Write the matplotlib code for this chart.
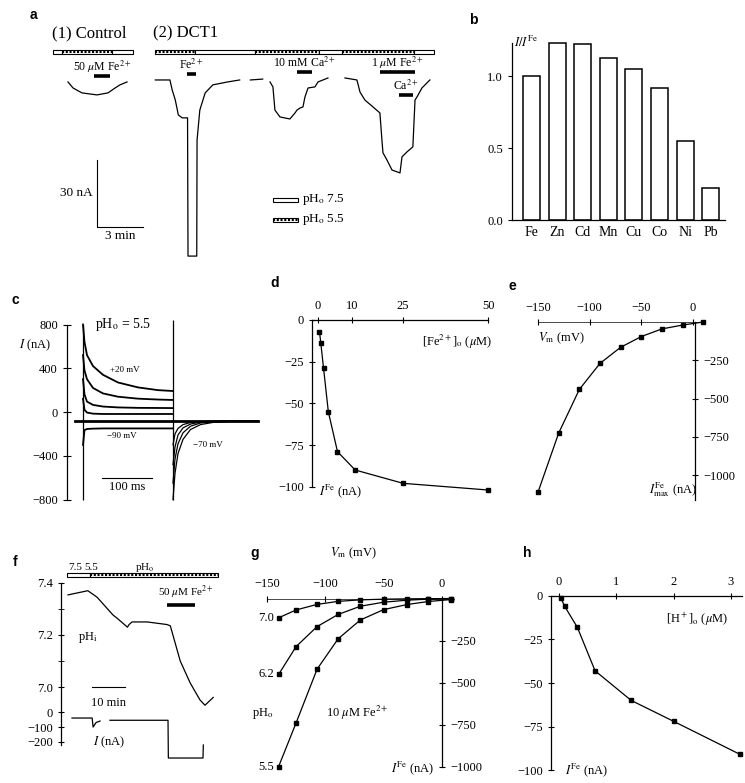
import numpy as np
import matplotlib
matplotlib.use('Agg')
import matplotlib.pyplot as plt
from matplotlib.patches import Rectangle

plt.rcParams['font.family'] = ['Liberation Serif', 'DejaVu Serif']
plt.rcParams['mathtext.fontset'] = 'stix'
plt.rcParams['font.size'] = 9
plt.rcParams['axes.linewidth'] = 0.9

nan = np.nan

# a: current traces (min, nA)
ctl_t = [1.5, 1.83, 2.41, 3.39, 4.11, 4.57, 4.89, 5.35]
ctl_i = [-0.9, -3.6, -5.8, -6.7, -5.8, -3.6, -2.2, -0.9]
dct_t = [7.2, 8.15, 8.3, 8.5, 8.7, 8.95, 9.3, 9.33, 9.9, 9.92, 10.1, 10.45, 10.95, 11.9, 12.7, nan,
         13.4, 14.2, nan,
         14.68, 14.87, 15.0, 15.33, 15.98, 16.31, 16.44, 16.63, 16.83, 16.96, 17.16, 17.61, 17.81, 18.46, nan,
         19.57, 20.35, 20.55, 20.87, 21.4, 21.85, 21.98, 22.05, 22.31, 22.64, 23.16, 23.29, 23.61, 24.0,
         24.14, 24.27, 24.59, 25.11]
dct_i = [0, 0, -4.5, -9, -15.7, -17, -17, -79, -79, -27, -13.5, -5.8, -2.2, -0.9, 0, nan,
         0, 0.4, nan,
         -0.9, -3.1, -13.5, -16.6, -17.5, -14.8, -13.5, -12.6, -12.1, -7.6, -3.6, -3.1, -0.9, 0.9, nan,
         0.9, 0, -5.4, -9, -12.1, -14.8, -26.9, -32.7, -35.9, -40.4, -41.7, -34.5, -32.3, -30,
         -9, -7.6, -3.6, 0]
ctl_sol_edges = [0.52, 1.1, 4.37, 5.74]
ctl_sol_acid = [False, True, False]
dct_sol_edges = [7.18, 9.8, 13.7, 17.9, 19.4, 24.1, 25.4]
dct_sol_acid = [True, False, True, False, True, False]
appl_start = [3.2, 9.26, 16.44, 21.85, 23.1]
appl_end = [4.24, 9.85, 17.42, 24.14, 24.0]
appl_level = [1.8, 2.7, 3.6, 3.6, -6.7]
appl_text = [r'50 $\mu$M Fe$^{2+}$', r'Fe$^{2+}$', r'10 mM Ca$^{2+}$', r'1 $\mu$M Fe$^{2+}$', r'Ca$^{2+}$']

# b: relative currents
metals = ['Fe', 'Zn', 'Cd', 'Mn', 'Cu', 'Co', 'Ni', 'Pb']
rel_current = [1.0, 1.23, 1.22, 1.125, 1.05, 0.92, 0.55, 0.22]

# c: voltage-clamp records (ms, nA)
pulse_t = [0, 3, 8, 20, 40, 70, 110, 150, 180]
pulse_i = [[800, 640, 520, 420, 340, 270, 225, 200, 192],
           [520, 380, 300, 220, 170, 140, 122, 114, 110],
           [300, 160, 95, 65, 50, 42, 38, 37, 36],
           [120, 20, -5, -15, -18, -18, -18, -18, -18],
           [-300, -165, -155, -152, -150, -150, -150, -150, -150]]
tail_t = [180, 184, 190, 200, 215, 235, 260, 300, 350]
tail_i = [[-800, -560, -380, -250, -160, -115, -95, -85, -82],
          [-650, -430, -290, -190, -130, -100, -88, -83, -82],
          [-480, -320, -210, -145, -110, -92, -85, -82, -82],
          [-300, -200, -150, -115, -96, -87, -83, -82, -82]]
holding_i = -82

# d: Fe2+ dose response
fe_conc = [0.4, 0.8, 1.6, 3, 5.7, 10.9, 25, 50]
fe_current = [-7, -14, -29, -55, -79, -90, -98, -102]

# e: I-V at saturating Fe2+
e_vm = [10, -10, -30, -50, -70, -90, -110, -130, -150]
e_imax = [0, -20, -45, -95, -165, -270, -440, -725, -1110]

# f: intracellular pH and current (min)
f_t = [0, 6, 8.8, 13.6, 14.8, 18, 18.5, 19.4, 24, 30, 31, 34, 37, 40, 41.5, 44]
f_ph = [7.354, 7.37, 7.345, 7.277, 7.265, 7.23, 7.24, 7.25, 7.25, 7.24, 7.235, 7.10, 7.016, 6.95, 6.93, 6.96]
fi_t = [1.2, 7.3, 7.6, 8.5, 9.7, nan, 12.7, 30.3, 30.4, 40.9, 41.0]
fi_i = [-40, -40, -100, -70, -60, nan, -55, -55, -307, -307, -220]

# g: I-V at three pH_o values
g_vm = [-140, -125, -107, -89, -70, -50, -30, -12, 8]
g_ph = ['7.0', '6.2', '5.5']
g_i = [[-115, -68, -35, -17, -8, -4, -2, -1, 0],
       [-452, -286, -167, -95, -46, -22, -10, -4, -2],
       [-1000, -740, -420, -240, -128, -66, -36, -18, -6]]

# h: proton dependence
h_conc = [0.03, 0.1, 0.32, 0.63, 1.26, 2.0, 3.16]
h_current = [-1, -6, -18, -43, -60, -72, -91]

W, H = 745, 783
fig = plt.figure(figsize=(W / 100, H / 100), dpi=100)


def panel(x0, y0, x1, y1):
    ax = fig.add_axes([x0 / W, 1 - y1 / H, (x1 - x0) / W, (y1 - y0) / H])
    ax.patch.set_alpha(0)
    return ax


def bare(ax):
    for s in ax.spines.values():
        s.set_visible(False)
    ax.set_xticks([])
    ax.set_yticks([])


def sol_bar(ax, edges, acid, y, h):
    for t0, t1, a in zip(edges[:-1], edges[1:], acid):
        ax.add_patch(Rectangle((t0, y - h / 2), t1 - t0, h, facecolor='white',
                               edgecolor='black', lw=0.8))
        if a:
            ax.plot([t0, t1], [y, y], color='black', lw=1.5, dashes=(1.0, 0.8),
                    solid_capstyle='butt')


lw = 0.9

# ---- a
ax = panel(45, 20, 440, 265)
bare(ax)
ax.set_xlim(0, 25.77)
ax.set_ylim(-83, 26.9)
ax.plot(ctl_t, ctl_i, color='black', lw=lw)
ax.plot(dct_t, dct_i, color='black', lw=lw)
sol_bar(ax, ctl_sol_edges, ctl_sol_acid, 12.6, 1.8)
sol_bar(ax, dct_sol_edges, dct_sol_acid, 12.6, 1.8)
for t0, t1, lev, txt in zip(appl_start, appl_end, appl_level, appl_text):
    ax.plot([t0, t1], [lev, lev], color='black', lw=2.6, solid_capstyle='butt')
    ax.text((t0 + t1) / 2, lev + 4.0, txt, ha='center', va='center', fontsize=8.5)
ax.text(0.46, 21.1, '(1) Control', ha='left', va='center', fontsize=12)
ax.text(7.05, 21.1, '(2) DCT1', ha='left', va='center', fontsize=12)
ax.plot([3.39, 3.39, 6.39], [-35.9, -65.9, -65.9], color='black', lw=0.8)
ax.text(3.1, -50.7, '30 nA', ha='right', va='center', fontsize=9.5)
ax.text(4.9, -67.5, '3 min', ha='center', va='top', fontsize=9.5)
sol_bar(ax, [14.87, 16.5], [False], -53.8, 1.8)
sol_bar(ax, [14.87, 16.5], [True], -62.8, 1.8)
ax.text(16.76, -53.8, r'pH$_{\rm o}$ 7.5', ha='left', va='center', fontsize=9.5)
ax.text(16.76, -62.8, r'pH$_{\rm o}$ 5.5', ha='left', va='center', fontsize=9.5)

# ---- b
ax = panel(512, 40, 725, 220)
x = np.arange(len(metals))
ax.bar(x, rel_current, width=0.66, facecolor='white', edgecolor='black', lw=1.1)
ax.set_xlim(-0.76, 7.56)
ax.set_ylim(0, 1.25)
ax.spines['right'].set_visible(False)
ax.spines['top'].set_visible(False)
ax.spines['left'].set_bounds(0, 1.23)
ax.set_yticks([0, 0.5, 1.0])
ax.set_yticklabels(['0.0', '0.5', '1.0'])
ax.set_xticks(x)
ax.set_xticklabels(metals, fontsize=10)
ax.tick_params(axis='x', length=0, pad=4)
ax.tick_params(axis='y', length=3, direction='out')
ax.text(-0.68, 1.23, r'$I/I^{\rm Fe}$', ha='left', va='center', fontsize=9)

# ---- c
ax = panel(60, 300, 265, 505)
ax.set_xlim(-46, 364)
ax.set_ylim(-850, 1024)
for s in ['top', 'right', 'bottom']:
    ax.spines[s].set_visible(False)
ax.spines['left'].set_position(('data', -32))
ax.spines['left'].set_bounds(-800, 800)
ax.set_xticks([])
ax.set_yticks([800, 400, 0, -400, -800])
ax.tick_params(axis='y', direction='inout', length=6)
for yi in pulse_i:
    ax.plot(pulse_t, yi, color='black', lw=1.3)
for yi in tail_i:
    ax.plot(tail_t, yi, color='black', lw=lw)
ax.vlines([0, 180], -800, [800, 840], color='black', lw=lw)
ax.plot([-16, 350], [holding_i, holding_i], color='black', lw=2.0)
ax.text(24, 800, r'pH$_{\rm o}$ = 5.5', ha='left', va='center', fontsize=10)
ax.text(54, 384, '+20 mV', ha='left', va='center', fontsize=6.5)
ax.text(48, -215, '\u221290 mV', ha='left', va='center', fontsize=6.5)
ax.text(220, -300, '\u221270 mV', ha='left', va='center', fontsize=6.5)
ax.plot([38, 138], [-603, -603], color='black', lw=0.8)
ax.text(88, -690, '100 ms', ha='center', va='center', fontsize=9)
ax.text(-96, 612, r'$I$ (nA)', ha='center', va='center', fontsize=9)

# ---- d
ax = panel(295, 295, 500, 505)
ax.set_xlim(-6.8, 53.5)
ax.set_ylim(-111, 15)
ax.spines['right'].set_visible(False)
ax.spines['bottom'].set_visible(False)
ax.spines['top'].set_position(('data', 0))
ax.spines['top'].set_bounds(-1.8, 50)
ax.spines['left'].set_position(('data', -1.8))
ax.spines['left'].set_bounds(-100, 0)
ax.xaxis.set_ticks_position('top')
ax.set_xticks([0, 10, 25, 50])
ax.set_yticks([0, -25, -50, -75, -100])
ax.tick_params(direction='inout', length=5)
ax.plot(fe_conc, fe_current, color='black', lw=lw, marker='s', ms=3)
ax.text(40.9, -13.2, r'[Fe$^{2+}$]$_{\rm o}$ ($\mu$M)', ha='center', va='center', fontsize=9)
ax.text(6.5, -103, r'$I^{\rm Fe}$ (nA)', ha='center', va='center', fontsize=9)

# ---- e
ax = panel(500, 295, 740, 505)
ax.set_xlim(-186.8, 45.5)
ax.set_ylim(-1194, 176)
ax.spines['left'].set_visible(False)
ax.spines['bottom'].set_visible(False)
ax.spines['top'].set_position(('data', 0))
ax.spines['top'].set_bounds(-150, 10)
ax.spines['top'].set_linewidth(0.5)
ax.spines['right'].set_position(('data', 2))
ax.spines['right'].set_bounds(-1160, 0)
ax.xaxis.set_ticks_position('top')
ax.yaxis.set_ticks_position('right')
ax.set_xticks([-150, -100, -50, 0])
ax.set_yticks([-250, -500, -750, -1000])
ax.tick_params(direction='inout', length=5)
ax.plot(e_vm, e_imax, color='black', lw=lw, marker='s', ms=2.5)
ax.text(-127, -104, r'$V_{\rm m}$ (mV)', ha='center', va='center', fontsize=9)
ax.text(-19, -1097, r'$I^{\rm Fe}_{\rm max}$ (nA)', ha='center', va='center', fontsize=9)

# ---- f
ax = panel(40, 560, 235, 712)
ax.set_xlim(-8.5, 50.6)
ax.set_ylim(6.904, 7.488)
for s in ['top', 'right', 'bottom']:
    ax.spines[s].set_visible(False)
ax.spines['left'].set_position(('data', -2.1))
ax.spines['left'].set_bounds(6.904, 7.4)
ax.set_xticks([])
ax.set_yticks([7.4, 7.2, 7.0])
ax.set_yticks([7.3, 7.1], minor=True)
ax.tick_params(axis='y', which='both', direction='inout', length=5)
ax.plot(f_t, f_ph, color='black', lw=lw)
sol_bar(ax, [-0.3, 6.7, 45.5], [False, True], 7.431, 0.015)
ax.text(0.0, 7.458, '7.5', ha='left', va='center', fontsize=8)
ax.text(4.8, 7.458, '5.5', ha='left', va='center', fontsize=8)
ax.text(20.3, 7.458, r'pH$_{\rm o}$', ha='left', va='center', fontsize=8)
ax.plot([30, 38.5], [7.315, 7.315], color='black', lw=2.6, solid_capstyle='butt')
ax.text(35.8, 7.365, r'50 $\mu$M Fe$^{2+}$', ha='center', va='center', fontsize=8)
ax.plot([7.3, 17.3], [7.0, 7.0], color='black', lw=0.8)
ax.text(12.3, 6.94, '10 min', ha='center', va='center', fontsize=9)
ax.text(3.0, 7.19, r'pH$_{\rm i}$', ha='left', va='center', fontsize=9)

ax = panel(40, 705, 235, 770)
ax.set_xlim(-8.5, 50.6)
ax.set_ylim(-387, 47)
for s in ['top', 'right', 'bottom']:
    ax.spines[s].set_visible(False)
ax.spines['left'].set_position(('data', -2.1))
ax.spines['left'].set_bounds(-220, 0)
ax.set_xticks([])
ax.set_yticks([0, -100, -200])
ax.tick_params(axis='y', direction='inout', length=5)
ax.plot(fi_t, fi_i, color='black', lw=lw)
ax.text(7.6, -200, r'$I$ (nA)', ha='left', va='center', fontsize=9)

# ---- g
ax = panel(250, 590, 470, 775)
ax.set_xlim(-164.5, 24)
ax.set_ylim(-1050, 50.6)
ax.spines['left'].set_visible(False)
ax.spines['bottom'].set_visible(False)
ax.spines['top'].set_position(('data', 0))
ax.spines['top'].set_bounds(-150, 10)
ax.spines['top'].set_linewidth(0.5)
ax.spines['right'].set_position(('data', 0))
ax.spines['right'].set_bounds(-1000, 0)
ax.xaxis.set_ticks_position('top')
ax.yaxis.set_ticks_position('right')
ax.set_xticks([-150, -100, -50, 0])
ax.set_yticks([-250, -500, -750, -1000])
ax.tick_params(direction='inout', length=5)
for lab, yi in zip(g_ph, g_i):
    ax.plot(g_vm, yi, color='black', lw=lw, marker='s', ms=2.5)
    ax.text(g_vm[0] - 4, yi[0], lab, ha='right', va='center', fontsize=9)
ax.text(-76, 271, r'$V_{\rm m}$ (mV)', ha='center', va='center', fontsize=9)
ax.text(-163, -682, r'pH$_{\rm o}$', ha='left', va='center', fontsize=9)
ax.text(-73, -682, r'10 $\mu$M Fe$^{2+}$', ha='center', va='center', fontsize=9)
ax.text(-25, -1009, r'$I^{\rm Fe}$ (nA)', ha='center', va='center', fontsize=9)

# ---- h
ax = panel(525, 570, 745, 780)
ax.set_xlim(-0.593, 3.246)
ax.set_ylim(-105.7, 14.9)
ax.spines['right'].set_visible(False)
ax.spines['bottom'].set_visible(False)
ax.spines['top'].set_position(('data', 0))
ax.spines['top'].set_bounds(-0.14, 3.2)
ax.spines['left'].set_position(('data', -0.14))
ax.spines['left'].set_bounds(-100, 0)
ax.xaxis.set_ticks_position('top')
ax.set_xticks([0, 1, 2, 3])
ax.set_yticks([0, -25, -50, -75, -100])
ax.tick_params(direction='inout', length=5)
ax.plot(h_conc, h_current, color='black', lw=lw, marker='s', ms=2.5)
ax.text(2.41, -13.2, r'[H$^+$]$_{\rm o}$ ($\mu$M)', ha='center', va='center', fontsize=9)
ax.text(0.49, -100, r'$I^{\rm Fe}$ (nA)', ha='center', va='center', fontsize=9)

# panel letters
for lab, (px, py) in zip('abcdefgh', [(33, 15), (473, 20), (15, 300), (275, 283),
                                      (512, 286), (15, 562), (255, 553), (527, 553)]):
    fig.text(px / W, 1 - py / H, lab, ha='center', va='center', fontsize=10,
             fontweight='bold', family=['Liberation Sans', 'DejaVu Sans'])

fig.savefig('out.png', dpi=100)
